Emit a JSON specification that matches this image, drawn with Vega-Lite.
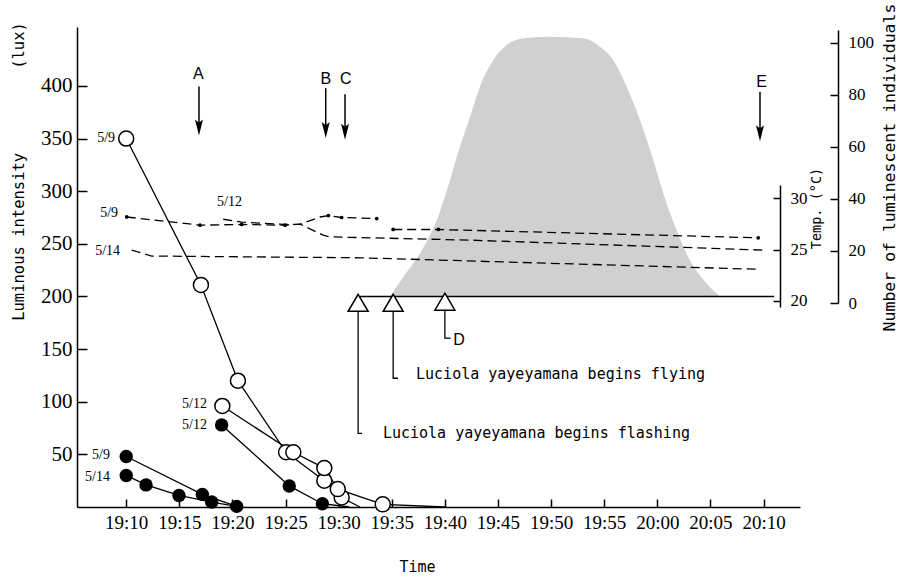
{
  "$schema": "https://vega.github.io/schema/vega-lite/v6.json",
  "width": 723,
  "height": 480,
  "autosize": {"type": "none"},
  "padding": {"left": 77, "top": 27, "right": 103, "bottom": 71},
  "background": "white",
  "config": {
    "view": {"stroke": null},
    "axis": {"grid": false, "domainColor": "black", "tickColor": "black", "labelColor": "black", "titleColor": "black", "domainWidth": 1.5, "tickWidth": 1.5, "labelOverlap": false, "titleFontWeight": "normal"}
  },
  "datasets": {
    "lux": [
      {"s":"o59","k":"o","time":"2000-01-01T19:10:00","lux":350},
      {"s":"o59","k":"o","time":"2000-01-01T19:17:02","lux":211},
      {"s":"o59","k":"o","time":"2000-01-01T19:20:31","lux":120},
      {"s":"o59","k":"o","time":"2000-01-01T19:25:03","lux":52},
      {"s":"o59","k":"o","time":"2000-01-01T19:28:39","lux":25},
      {"s":"o59","k":"o","time":"2000-01-01T19:30:17","lux":9},
      {"s":"o59","k":"n","time":"2000-01-01T19:32:00","lux":0},
      {"s":"o512","k":"o","time":"2000-01-01T19:19:03","lux":96},
      {"s":"o512","k":"o","time":"2000-01-01T19:25:44","lux":52},
      {"s":"o512","k":"o","time":"2000-01-01T19:28:39","lux":37},
      {"s":"o512","k":"o","time":"2000-01-01T19:29:55","lux":17},
      {"s":"o512","k":"o","time":"2000-01-01T19:34:09","lux":2.5},
      {"s":"o512","k":"n","time":"2000-01-01T19:40:00","lux":0},
      {"s":"f59","k":"f","time":"2000-01-01T19:10:00","lux":48},
      {"s":"f59","k":"f","time":"2000-01-01T19:17:10","lux":12},
      {"s":"f59","k":"f","time":"2000-01-01T19:20:24","lux":0.6},
      {"s":"f514","k":"f","time":"2000-01-01T19:10:00","lux":30},
      {"s":"f514","k":"f","time":"2000-01-01T19:11:52","lux":21},
      {"s":"f514","k":"f","time":"2000-01-01T19:14:58","lux":11},
      {"s":"f514","k":"f","time":"2000-01-01T19:18:03","lux":4.7},
      {"s":"f514","k":"n","time":"2000-01-01T19:20:24","lux":0.6},
      {"s":"f512","k":"f","time":"2000-01-01T19:18:59","lux":78},
      {"s":"f512","k":"f","time":"2000-01-01T19:25:21","lux":20},
      {"s":"f512","k":"f","time":"2000-01-01T19:28:28","lux":3.1},
      {"s":"f512","k":"n","time":"2000-01-01T19:31:00","lux":0}
    ],
    "temp": [
      {"s":"t59","d":1,"time":"2000-01-01T19:10:03","temp":28.18},
      {"s":"t59","d":1,"time":"2000-01-01T19:16:57","temp":27.38},
      {"s":"t59","d":1,"time":"2000-01-01T19:20:52","temp":27.45},
      {"s":"t59","d":1,"time":"2000-01-01T19:24:57","temp":27.38},
      {"s":"t59","d":0,"time":"2000-01-01T19:26:22","temp":27.48},
      {"s":"t59","d":0,"time":"2000-01-01T19:28:32","temp":26.41},
      {"s":"t59","d":0,"time":"2000-01-01T19:29:11","temp":26.24},
      {"s":"t59","d":0,"time":"2000-01-01T19:42:22","temp":25.92},
      {"s":"t59","d":0,"time":"2000-01-01T20:09:57","temp":24.95},
      {"s":"t512a","d":0,"time":"2000-01-01T19:19:08","temp":27.96},
      {"s":"t512a","d":0,"time":"2000-01-01T19:20:52","temp":27.67},
      {"s":"t512a","d":0,"time":"2000-01-01T19:24:57","temp":27.45},
      {"s":"t512a","d":0,"time":"2000-01-01T19:26:22","temp":27.48},
      {"s":"t512a","d":0,"time":"2000-01-01T19:28:15","temp":28.18},
      {"s":"t512a","d":1,"time":"2000-01-01T19:29:02","temp":28.32},
      {"s":"t512a","d":1,"time":"2000-01-01T19:30:17","temp":28.13},
      {"s":"t512a","d":1,"time":"2000-01-01T19:33:35","temp":28.03},
      {"s":"t512b","d":1,"time":"2000-01-01T19:35:08","temp":26.96},
      {"s":"t512b","d":1,"time":"2000-01-01T19:39:23","temp":26.96},
      {"s":"t512b","d":1,"time":"2000-01-01T20:09:30","temp":26.15},
      {"s":"t514","d":0,"time":"2000-01-01T19:10:31","temp":24.95},
      {"s":"t514","d":0,"time":"2000-01-01T19:12:24","temp":24.37},
      {"s":"t514","d":0,"time":"2000-01-01T19:32:01","temp":24.2},
      {"s":"t514","d":0,"time":"2000-01-01T20:09:30","temp":23.08}
    ],
    "count": [
      {"time":"2000-01-01T19:34:50","count":2.5},
      {"time":"2000-01-01T19:36:05","count":10},
      {"time":"2000-01-01T19:37:40","count":19.1},
      {"time":"2000-01-01T19:39:14","count":31.8},
      {"time":"2000-01-01T19:40:29","count":47.2},
      {"time":"2000-01-01T19:41:25","count":60},
      {"time":"2000-01-01T19:42:22","count":71.5},
      {"time":"2000-01-01T19:43:18","count":83.1},
      {"time":"2000-01-01T19:44:33","count":93.3},
      {"time":"2000-01-01T19:45:49","count":99.1},
      {"time":"2000-01-01T19:47:23","count":101.7},
      {"time":"2000-01-01T19:49:35","count":102.3},
      {"time":"2000-01-01T19:53:02","count":101.7},
      {"time":"2000-01-01T19:54:36","count":98.5},
      {"time":"2000-01-01T19:55:51","count":93.3},
      {"time":"2000-01-01T19:57:07","count":83.1},
      {"time":"2000-01-01T19:58:22","count":70.3},
      {"time":"2000-01-01T19:59:37","count":54.9},
      {"time":"2000-01-01T20:00:34","count":42.1},
      {"time":"2000-01-01T20:01:49","count":28},
      {"time":"2000-01-01T20:03:04","count":16.4},
      {"time":"2000-01-01T20:04:39","count":7.5},
      {"time":"2000-01-01T20:05:54","count":2.5}
    ],
    "base": [
      {"time":"2000-01-01T19:32:00","time2":"2000-01-01T20:11:00","count":2.5}
    ],
    "arrows": [
      {"name":"A","time":"2000-01-01T19:16:51","lux":399.4,"lux2":360.5},
      {"name":"B","time":"2000-01-01T19:28:47","lux":397.9,"lux2":358.1},
      {"name":"C","time":"2000-01-01T19:30:36","lux":392.1,"lux2":356.6},
      {"name":"E","time":"2000-01-01T20:09:40","lux":394.6,"lux2":355}
    ],
    "heads": [
      {"name":"A","time":"2000-01-01T19:16:51","lux":360.5},
      {"name":"B","time":"2000-01-01T19:28:47","lux":358.1},
      {"name":"C","time":"2000-01-01T19:30:36","lux":356.6},
      {"name":"E","time":"2000-01-01T20:09:40","lux":355}
    ],
    "tri": [
      {"time":"2000-01-01T19:31:50","lux":194},
      {"time":"2000-01-01T19:35:08","lux":194},
      {"time":"2000-01-01T19:40:00","lux":195}
    ],
    "leaders": [
      {"g":1,"o":1,"time":"2000-01-01T19:31:50","lux":185.4},
      {"g":1,"o":2,"time":"2000-01-01T19:31:50","lux":70},
      {"g":1,"o":3,"time":"2000-01-01T19:32:12","lux":70},
      {"g":2,"o":1,"time":"2000-01-01T19:35:08","lux":185.4},
      {"g":2,"o":2,"time":"2000-01-01T19:35:08","lux":122.3},
      {"g":2,"o":3,"time":"2000-01-01T19:35:35","lux":122.3},
      {"g":3,"o":1,"time":"2000-01-01T19:40:00","lux":187},
      {"g":3,"o":2,"time":"2000-01-01T19:40:00","lux":160.4},
      {"g":3,"o":3,"time":"2000-01-01T19:40:33","lux":160.4}
    ],
    "serlab": [
      {"text":"5/9","time":"2000-01-01T19:08:57","lux":350.8},
      {"text":"5/9","time":"2000-01-01T19:09:14","lux":279.4},
      {"text":"5/12","time":"2000-01-01T19:20:54","lux":289.7},
      {"text":"5/14","time":"2000-01-01T19:09:25","lux":243.1},
      {"text":"5/12","time":"2000-01-01T19:17:36","lux":97.6},
      {"text":"5/12","time":"2000-01-01T19:17:36","lux":77.6},
      {"text":"5/9","time":"2000-01-01T19:08:28","lux":49.1},
      {"text":"5/14","time":"2000-01-01T19:08:28","lux":28.2}
    ],
    "letters": [
      {"text":"A","time":"2000-01-01T19:16:47","lux":411.7},
      {"text":"B","time":"2000-01-01T19:28:47","lux":406.5},
      {"text":"C","time":"2000-01-01T19:30:40","lux":406.5},
      {"text":"E","time":"2000-01-01T20:09:49","lux":404.1},
      {"text":"D","time":"2000-01-01T19:41:20","lux":158.4}
    ],
    "notes": [
      {"text":"Luciola yayeyamana begins flying","time":"2000-01-01T19:37:17","lux":126.8},
      {"text":"Luciola yayeyamana begins flashing","time":"2000-01-01T19:34:10","lux":70}
    ]
  },
  "encoding": {
    "x": {
      "field": "time",
      "type": "temporal",
      "scale": {"domain": [
        {"year":2000,"month":1,"date":1,"hours":19,"minutes":5,"seconds":22},
        {"year":2000,"month":1,"date":1,"hours":20,"minutes":13,"seconds":26}
      ]},
      "axis": {
        "values": [
          {"year":2000,"month":1,"date":1,"hours":19,"minutes":10},
          {"year":2000,"month":1,"date":1,"hours":19,"minutes":15},
          {"year":2000,"month":1,"date":1,"hours":19,"minutes":20},
          {"year":2000,"month":1,"date":1,"hours":19,"minutes":25},
          {"year":2000,"month":1,"date":1,"hours":19,"minutes":30},
          {"year":2000,"month":1,"date":1,"hours":19,"minutes":35},
          {"year":2000,"month":1,"date":1,"hours":19,"minutes":40},
          {"year":2000,"month":1,"date":1,"hours":19,"minutes":45},
          {"year":2000,"month":1,"date":1,"hours":19,"minutes":50},
          {"year":2000,"month":1,"date":1,"hours":19,"minutes":55},
          {"year":2000,"month":1,"date":1,"hours":20,"minutes":0},
          {"year":2000,"month":1,"date":1,"hours":20,"minutes":5},
          {"year":2000,"month":1,"date":1,"hours":20,"minutes":10}
        ],
        "format": "%H:%M",
        "tickSize": -8,
        "labelPadding": 14,
        "labelFont": "Liberation Serif",
        "labelFontSize": 19,
        "labelFlush": false,
        "title": "Time",
        "titleFont": "DejaVu Sans Mono",
        "titleFontSize": 15,
        "titleX": 340,
        "titleY": 52,
        "titleBaseline": "top"
      }
    }
  },
  "layer": [
    {
      "encoding": {
        "y": {
          "field": "count", "type": "quantitative",
          "scale": {"domain": [0, 104.9], "range": [276, 3]},
          "axis": {
            "orient": "right", "offset": 38, "values": [0,20,40,60,80,100],
            "tickSize": -8, "labelPadding": 18,
            "labelFont": "Liberation Serif", "labelFontSize": 17,
            "title": "Number of luminescent individuals",
            "titleFont": "DejaVu Sans Mono", "titleFontSize": 16.5,
            "titleAngle": -90, "titleX": 51, "titleY": 140, "titleAlign": "center", "titleBaseline": "middle"
          }
        }
      },
      "layer": [
        {"data": {"name": "count"}, "mark": {"type": "area", "fill": "#d0d0d0", "interpolate": "monotone"}, "encoding": {"y2": {"datum": 2.5}}},
        {"data": {"name": "base"}, "mark": {"type": "rule", "stroke": "black", "strokeWidth": 1.5}, "encoding": {"x2": {"field": "time2"}}}
      ]
    },
    {
      "encoding": {
        "y": {
          "field": "temp", "type": "quantitative",
          "scale": {"domain": [19.4, 31.3], "range": [280, 158]},
          "axis": {
            "orient": "right", "offset": -20, "values": [20,25,30],
            "tickSize": -7, "labelPadding": 17,
            "labelFont": "Liberation Serif", "labelFontSize": 17,
            "title": "Temp. (°C)",
            "titleFont": "DejaVu Sans Mono", "titleFontSize": 13.5,
            "titleAngle": -90, "titleX": 36, "titleY": 181, "titleAlign": "center", "titleBaseline": "middle"
          }
        }
      },
      "layer": [
        {"data": {"name": "temp"}, "mark": {"type": "line", "stroke": "black", "strokeWidth": 1.3, "strokeDash": [9, 5]}, "encoding": {"detail": {"field": "s"}}},
        {"data": {"name": "temp"}, "transform": [{"filter": "datum.d == 1"}], "mark": {"type": "point", "shape": "circle", "filled": true, "fill": "black", "size": 14, "opacity": 1}}
      ]
    },
    {
      "encoding": {
        "y": {
          "field": "lux", "type": "quantitative",
          "scale": {"domain": [0, 456]},
          "axis": {
            "orient": "left", "values": [50,100,150,200,250,300,350,400],
            "tickSize": -10, "labelPadding": 15,
            "labelFont": "Liberation Serif", "labelFontSize": 21,
            "title": "Luminous intensity\u00a0\u00a0\u00a0\u00a0\u00a0\u00a0\u00a0\u00a0\u00a0(lux)",
            "titleFont": "DejaVu Sans Mono", "titleFontSize": 15.5,
            "titleAngle": -90, "titleX": -59, "titleY": 144, "titleAlign": "center", "titleBaseline": "middle"
          }
        }
      },
      "layer": [
        {"data": {"name": "lux"}, "mark": {"type": "line", "stroke": "black", "strokeWidth": 1.3}, "encoding": {"detail": {"field": "s"}}},
        {"data": {"name": "lux"}, "transform": [{"filter": "datum.k == 'o'"}], "mark": {"type": "point", "shape": "circle", "filled": true, "fill": "white", "stroke": "black", "strokeWidth": 1.5, "size": 225, "opacity": 1}},
        {"data": {"name": "lux"}, "transform": [{"filter": "datum.k == 'f'"}], "mark": {"type": "point", "shape": "circle", "filled": true, "fill": "black", "size": 180, "opacity": 1}},
        {"data": {"name": "arrows"}, "mark": {"type": "rule", "stroke": "black", "strokeWidth": 1.5}, "encoding": {"y2": {"field": "lux2"}}},
        {"data": {"name": "heads"}, "mark": {"type": "point", "shape": "M-0.5,-1L0,-0.6L0.5,-1L0,1Z", "filled": true, "fill": "black", "size": 256, "opacity": 1}},
        {"data": {"name": "tri"}, "mark": {"type": "point", "shape": "M0,-0.85L1,0.85L-1,0.85Z", "filled": true, "fill": "white", "stroke": "black", "strokeWidth": 1.5, "size": 400, "opacity": 1}},
        {"data": {"name": "leaders"}, "mark": {"type": "line", "stroke": "black", "strokeWidth": 1.3}, "encoding": {"detail": {"field": "g"}, "order": {"field": "o"}}},
        {"data": {"name": "serlab"}, "mark": {"type": "text", "align": "right", "baseline": "middle", "font": "Liberation Serif", "fontSize": 14, "fill": "black"}, "encoding": {"text": {"field": "text"}}},
        {"data": {"name": "letters"}, "mark": {"type": "text", "align": "center", "baseline": "middle", "font": "Liberation Sans", "fontSize": 16, "fill": "black"}, "encoding": {"text": {"field": "text"}}},
        {"data": {"name": "notes"}, "mark": {"type": "text", "align": "left", "baseline": "middle", "font": "DejaVu Sans Mono", "fontSize": 15, "fill": "black"}, "encoding": {"text": {"field": "text"}}}
      ]
    }
  ],
  "resolve": {"scale": {"y": "independent"}, "axis": {"y": "independent"}}
}
